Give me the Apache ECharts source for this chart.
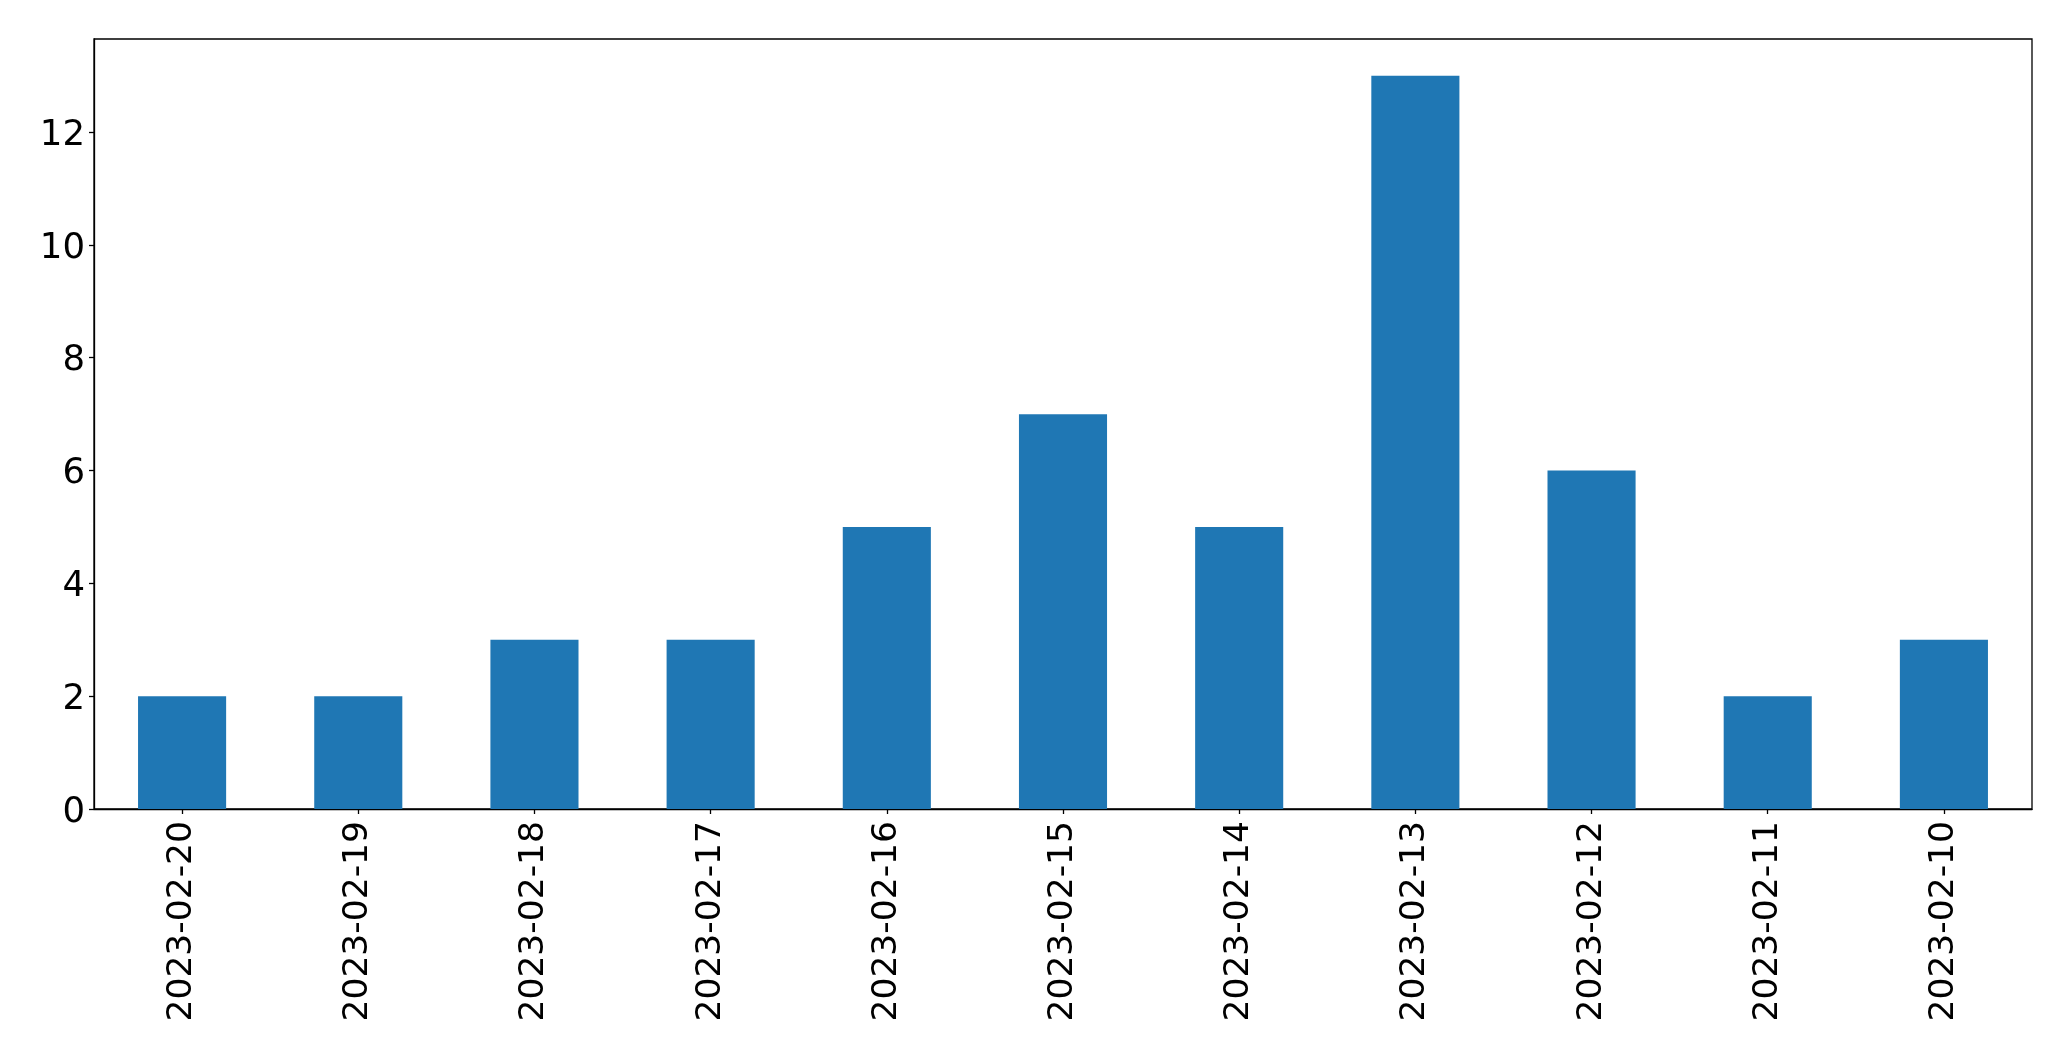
<!DOCTYPE html>
<html>
<head>
<meta charset="utf-8">
<script src="https://cdn.jsdelivr.net/npm/echarts@6/dist/echarts.min.js"></script>
<style>
html,body{margin:0;padding:0;background:#fff;}
#chart{width:2071px;height:1061px;}
</style>
</head>
<body>
<div id="chart"></div>
<script>
const categories = ["2023-02-20","2023-02-19","2023-02-18","2023-02-17","2023-02-16","2023-02-15","2023-02-14","2023-02-13","2023-02-12","2023-02-11","2023-02-10"];
const values = [2, 2, 3, 3, 5, 7, 5, 13, 6, 2, 3];
const yTicks = [0, 2, 4, 6, 8, 10, 12];
const yMax = 13.65;

const chart = echarts.init(document.getElementById('chart'), null, {renderer: 'canvas'});
const font = 'DejaVu Sans';
chart.setOption({
  animation: false,
  backgroundColor: '#ffffff',
  grid: {
    left: 94, top: 39, width: 1938, height: 770,
    show: true, borderColor: '#000', borderWidth: 1.3, backgroundColor: 'transparent'
  },
  xAxis: {
    type: 'category',
    data: categories,
    axisLine: {show: true, lineStyle: {color: '#000', width: 1.3}},
    axisTick: {show: true, alignWithLabel: true, length: 5, lineStyle: {color: '#000', width: 1.3}},
    axisLabel: {rotate: 90, margin: 12, color: '#000', fontFamily: font, fontSize: 34.5, interval: 0},
    splitLine: {show: false}
  },
  yAxis: {
    type: 'value',
    min: 0, max: yMax, interval: 2,
    axisLine: {show: true, lineStyle: {color: '#000', width: 1.3}},
    axisTick: {show: true, length: 5, customValues: yTicks, lineStyle: {color: '#000', width: 1.3}},
    axisLabel: {
      margin: 9, color: '#000', fontFamily: font, fontSize: 35.5,
      customValues: yTicks,
      formatter: function (v) { return yTicks.indexOf(v) >= 0 ? '{v|' + v + '}' : ''; },
      rich: {v: {fontFamily: font, fontSize: 35.5, color: '#000', padding: [7, 0, 0, 0]}}
    },
    splitLine: {show: false}
  },
  series: [{
    type: 'bar',
    data: values,
    barWidth: '50%',
    itemStyle: {color: '#1f77b4'}
  }]
});
</script>
</body>
</html>
